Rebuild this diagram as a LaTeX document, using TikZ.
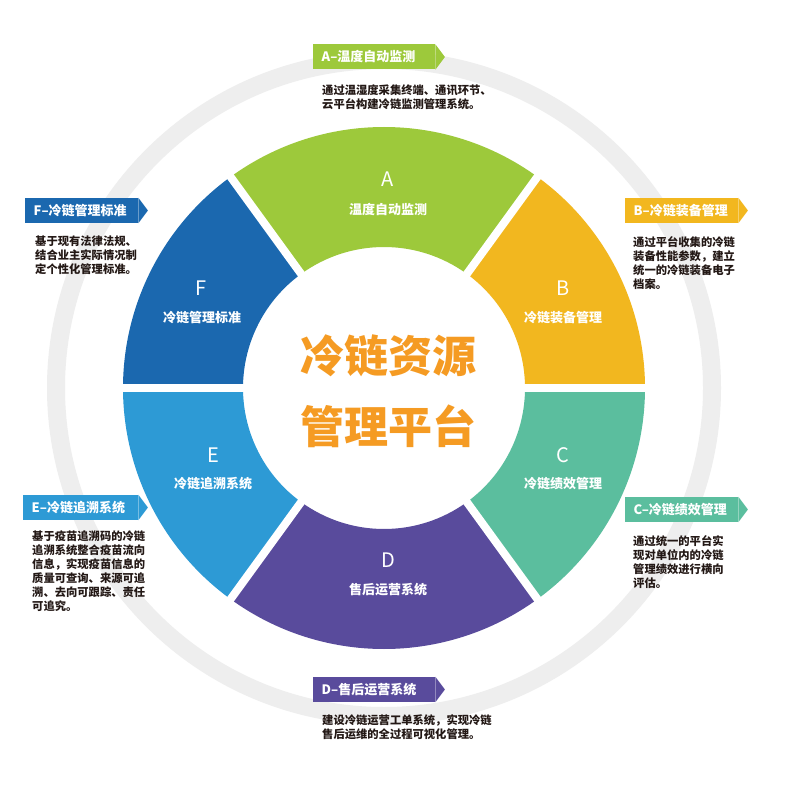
\documentclass[tikz,border=0pt]{standalone}
\usepackage{fontspec}
\setmainfont{Noto Sans CJK SC}
\newfontfamily\heavyfont{Noto Sans CJK SC Black}
\usetikzlibrary{calc}
\definecolor{cA}{HTML}{9DC93B}
\definecolor{cB}{HTML}{F2B71F}
\definecolor{cC}{HTML}{5BBE9E}
\definecolor{cD}{HTML}{594B9C}
\definecolor{cE}{HTML}{2D9AD5}
\definecolor{cF}{HTML}{1B68AF}
\definecolor{corange}{HTML}{F59B23}
\definecolor{cring}{HTML}{EEEEEE}
\definecolor{ctxt}{HTML}{231815}
\newcommand\descblock[4]{%
  \foreach \t [count=\i] in {#4}
    \node[desc] (#1\i) at (#2,{-(#3+4.3+(\i-1)*14)}) {\t};}
\newcommand\tagtip[2]{%
  \fill[#2] (#1.north east) -- ($(#1.east)+(9.5,0)$) -- (#1.south east) -- cycle;}
\begin{document}
\begin{tikzpicture}[x=1pt,y=1pt,
  seclet/.style={text=white, font=\fontsize{20}{20}\selectfont, inner sep=0pt},
  seclab/.style={text=white, font=\bfseries\fontsize{13}{13}\selectfont, inner sep=0pt},
  tagbox/.style={text=white, font=\bfseries\fontsize{13}{13}\selectfont, anchor=west,
     minimum height=25pt, inner xsep=8.5pt, inner ysep=0pt, align=left},
  desc/.style={text=ctxt, font=\bfseries\fontsize{11.3}{11.3}\selectfont, anchor=base west, inner sep=0pt},
  centre/.style={text=corange, font=\heavyfont\fontsize{44}{44}\selectfont, inner sep=0pt}]
\useasboundingbox (0,0) rectangle (800,-791);
\fill[white] (0,0) rectangle (800,-791);
\coordinate (O) at (384,-388);
% outer ring
\draw[cring, line width=18pt] (O) circle[radius=328];
% sectors
\foreach \a/\b/\c in {54/126/cA, 0/54/cB, -54/0/cC, -126/-54/cD, -180/-126/cE, 126/180/cF}
  \fill[\c] ($(O)+(\a:261)$) arc[start angle=\a, end angle=\b, radius=261]
     -- ($(O)+(\b:141)$) arc[start angle=\b, end angle=\a, radius=141] -- cycle;
% gaps
\foreach \a in {0,54,126,180,234,306}
  \draw[white, line width=8pt] ($(O)+(\a:130)$) -- ($(O)+(\a:272)$);
% sector labels
\node[seclet] (lA) at (388,-179) {A};
\node[seclab] (sA) at (388,-210) {温度自动监测};
\node[seclet] (lB) at (563,-288) {B};
\node[seclab] (sB) at (563,-318) {冷链装备管理};
\node[seclet] (lC) at (563,-455) {C};
\node[seclab] (sC) at (563,-484) {冷链绩效管理};
\node[seclet] (lD) at (388,-560) {D};
\node[seclab] (sD) at (388,-590) {售后运营系统};
\node[seclet] (lE) at (213,-455) {E};
\node[seclab] (sE) at (213,-484) {冷链追溯系统};
\node[seclet] (lF) at (201,-288) {F};
\node[seclab] (sF) at (202,-318) {冷链管理标准};
% centre title
\node[centre] (c1) at (388,-356) {冷链资源};
\node[centre] (c2) at (388,-426) {管理平台};
% tags
\node[tagbox, fill=cA, text width=105pt] (gA) at (313,-57) {A–温度自动监测};
\tagtip{gA}{cA}
\node[tagbox, fill=cF, text width=96pt] (gF) at (25,-210.5) {F–冷链管理标准};
\tagtip{gF}{cF}
\node[tagbox, fill=cB, text width=96pt] (gB) at (625,-210.5) {B–冷链装备管理};
\tagtip{gB}{cB}
\node[tagbox, fill=cC, text width=96pt] (gC) at (625,-509.5) {C–冷链绩效管理};
\tagtip{gC}{cC}
\node[tagbox, fill=cE, text width=98pt] (gE) at (23,-507.5) {E–冷链追溯系统};
\tagtip{gE}{cE}
\node[tagbox, fill=cD, text width=105pt] (gD) at (313,-689.5) {D–售后运营系统};
\tagtip{gD}{cD}
% descriptions
\descblock{dA}{322}{90}{通过温湿度采集终端、通讯环节、,云平台构建冷链监测管理系统。}
\descblock{dF}{35}{241}{基于现有法律法规、,结合业主实际情况制,定个性化管理标准。}
\descblock{dB}{633}{242}{通过平台收集的冷链,装备性能参数，建立,统一的冷链装备电子,档案。}
\descblock{dC}{633}{541}{通过统一的平台实,现对单位内的冷链,管理绩效进行横向,评估。}
\descblock{dE}{32}{536}{基于疫苗追溯码的冷链,追溯系统整合疫苗流向,信息，实现疫苗信息的,质量可查询、来源可追,溯、去向可跟踪、责任,可追究。}
\descblock{dD}{322}{720}{建设冷链运营工单系统，实现冷链,售后运维的全过程可视化管理。}
\end{tikzpicture}
\end{document}
